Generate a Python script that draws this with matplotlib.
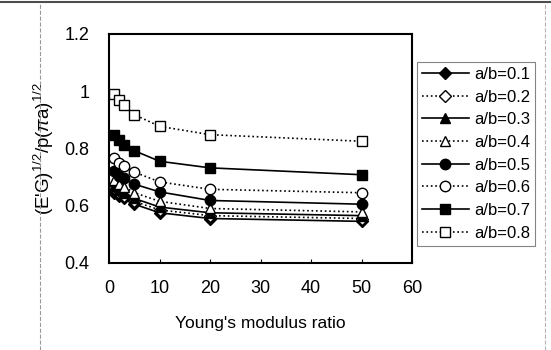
import matplotlib
matplotlib.use("Agg")
import matplotlib.pyplot as plt
from matplotlib.lines import Line2D

plt.rcParams['font.family'] = ['Liberation Sans', 'DejaVu Sans']
plt.rcParams['mathtext.fontset'] = 'custom'
plt.rcParams['mathtext.rm'] = 'Liberation Sans'
plt.rcParams['mathtext.it'] = 'Liberation Sans:italic'

x = [1, 2, 3, 5, 10, 20, 50]

ab01 = [0.645, 0.635, 0.625, 0.605, 0.575, 0.555, 0.545]
ab02 = [0.660, 0.645, 0.635, 0.615, 0.585, 0.565, 0.555]
ab03 = [0.670, 0.655, 0.645, 0.625, 0.595, 0.575, 0.565]
ab04 = [0.690, 0.675, 0.665, 0.645, 0.615, 0.590, 0.578]
ab05 = [0.720, 0.705, 0.695, 0.675, 0.648, 0.618, 0.605]
ab06 = [0.765, 0.750, 0.738, 0.717, 0.683, 0.657, 0.645]
ab07 = [0.848, 0.830, 0.812, 0.792, 0.755, 0.732, 0.708]
ab08 = [0.990, 0.970, 0.950, 0.918, 0.877, 0.848, 0.825]

labels = ['a/b=0.1', 'a/b=0.2', 'a/b=0.3', 'a/b=0.4',
          'a/b=0.5', 'a/b=0.6', 'a/b=0.7', 'a/b=0.8']

fig = plt.figure(figsize=(5.51, 3.5), dpi=100)
ax = fig.add_axes([0.198, 0.249, 0.55, 0.654])

# solid = filled markers, dotted = open markers
ax.plot(x, ab01, '-', color='k', lw=1.2, marker='D', ms=6, mfc='k', mec='k', label=labels[0])
ax.plot(x, ab02, ':', color='k', lw=1.2, marker='D', ms=6, mfc='white', mec='k', label=labels[1])
ax.plot(x, ab03, '-', color='k', lw=1.2, marker='^', ms=7, mfc='k', mec='k', label=labels[2])
ax.plot(x, ab04, ':', color='k', lw=1.2, marker='^', ms=7, mfc='white', mec='k', label=labels[3])
ax.plot(x, ab05, '-', color='k', lw=1.2, marker='o', ms=7.5, mfc='k', mec='k', label=labels[4])
ax.plot(x, ab06, ':', color='k', lw=1.2, marker='o', ms=7.5, mfc='white', mec='k', label=labels[5])
ax.plot(x, ab07, '-', color='k', lw=1.2, marker='s', ms=7, mfc='k', mec='k', label=labels[6])
ax.plot(x, ab08, ':', color='k', lw=1.2, marker='s', ms=7, mfc='white', mec='k', label=labels[7])

ax.set_xlim(0, 60)
ax.set_ylim(0.4, 1.2)
ax.set_xticks([0, 10, 20, 30, 40, 50, 60])
ax.set_yticks([0.4, 0.6, 0.8, 1.0, 1.2])
ax.set_yticklabels(['0.4', '0.6', '0.8', '1', '1.2'])
ax.tick_params(direction='in', length=3, width=0.8, labelsize=13, pad=12)
ax.tick_params(axis='y', length=0, pad=14)
for s in ax.spines.values():
    s.set_linewidth(1.5)

ax.set_xlabel("Young's modulus ratio", fontsize=12.5, labelpad=14)
ax.set_ylabel(r"(E'G)$^{1/2}$/p($\pi$a)$^{1/2}$", fontsize=13.5, labelpad=6)

leg = fig.legend(loc='upper left', bbox_to_anchor=(0.757, 0.823), fontsize=12,
                 frameon=True, fancybox=False, edgecolor='0.4', handlelength=2.8,
                 handletextpad=0.3, labelspacing=0.46, borderpad=0.3,
                 borderaxespad=0)
leg.get_frame().set_linewidth(0.8)

# scan-like border lines
fig.add_artist(Line2D([0.0, 1.0], [0.995, 0.995], color='0.3', lw=1.5))
fig.add_artist(Line2D([0.073, 0.073], [0.0, 0.99], color='0.6', lw=0.8, ls='--'))
fig.add_artist(Line2D([0.99, 0.99], [0.0, 0.99], color='0.7', lw=0.8, ls='--'))

fig.savefig('out.png', dpi=100)
